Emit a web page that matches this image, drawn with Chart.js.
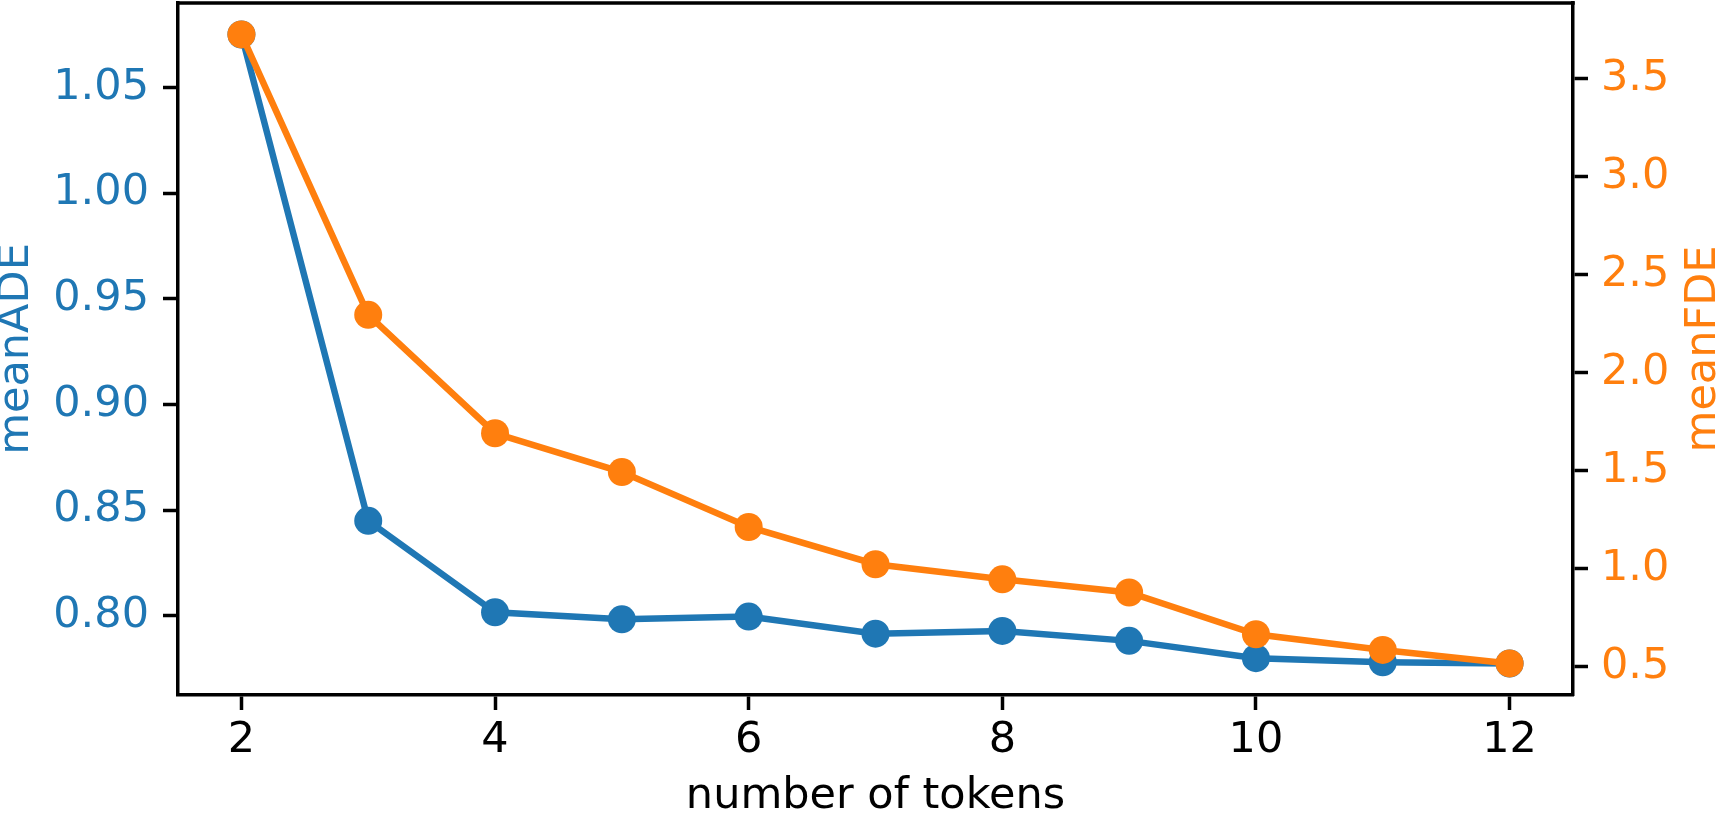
<!DOCTYPE html>
<html>
<head>
<meta charset="utf-8">
<script src="https://cdn.jsdelivr.net/npm/chart.js@4.4.0/dist/chart.umd.min.js"></script>
<style>
html, body { margin: 0; padding: 0; background: #fff; }
canvas { display: block; }
</style>
</head>
<body>
<canvas id="myChart" width="1717" height="814"></canvas>
<script>
// data
const tokens = [2, 3, 4, 5, 6, 7, 8, 9, 10, 11, 12];
const meanADE = [1.075, 0.845, 0.8017, 0.7984, 0.7997, 0.7916, 0.7929, 0.7882, 0.780, 0.7781, 0.7775];
const meanFDE = [3.726, 2.296, 1.692, 1.494, 1.214, 1.024, 0.947, 0.880, 0.667, 0.587, 0.518];

const xTicks = [2, 4, 6, 8, 10, 12];
const adeTicks = [0.80, 0.85, 0.90, 0.95, 1.00, 1.05];
const fdeTicks = [0.5, 1.0, 1.5, 2.0, 2.5, 3.0, 3.5];

const blue = '#1f77b4';
const orange = '#ff7f0e';
const font = { family: 'DejaVu Sans', size: 43 };

// matplotlib style top spine
const topSpine = {
    id: 'topSpine',
    afterDraw(chart) {
        const { ctx, chartArea } = chart;
        ctx.save();
        ctx.strokeStyle = '#000';
        ctx.lineWidth = 3.5;
        ctx.beginPath();
        ctx.moveTo(chartArea.left - 1.75, chartArea.top);
        ctx.lineTo(chartArea.right + 1.75, chartArea.top);
        ctx.stroke();
        ctx.restore();
    }
};

// right axis title reads bottom-to-top like the left one
const rightTitle = {
    id: 'rightTitle',
    afterDraw(chart) {
        const { ctx, chartArea } = chart;
        ctx.save();
        ctx.translate(chart.width - 13, (chartArea.top + chartArea.bottom) / 2);
        ctx.rotate(-Math.PI / 2);
        ctx.font = '43px "DejaVu Sans"';
        ctx.fillStyle = orange;
        ctx.textAlign = 'center';
        ctx.textBaseline = 'middle';
        ctx.fillText('meanFDE', 0, 0);
        ctx.restore();
    }
};

const axisGrid = {
    display: true,
    drawOnChartArea: false,
    drawTicks: true,
    tickLength: 15,
    tickWidth: 3.5,
    tickColor: '#000'
};
const axisBorder = { display: true, color: '#000', width: 3.5 };

// fixed axis sizes, no extra label padding
function fitY(width) {
    return (scale) => {
        scale.width = width;
        scale.paddingTop = 0;
        scale.paddingBottom = 0;
    };
}

const ctx = document.getElementById('myChart').getContext('2d');

new Chart(ctx, {
    type: 'line',
    data: {
        datasets: [{
            label: 'meanFDE',
            data: tokens.map((t, i) => ({ x: t, y: meanFDE[i] })),
            yAxisID: 'y1',
            borderColor: orange,
            backgroundColor: orange,
            borderWidth: 6.5,
            pointRadius: 14,
            pointBorderWidth: 0,
            pointBackgroundColor: orange,
            order: 0
        }, {
            label: 'meanADE',
            data: tokens.map((t, i) => ({ x: t, y: meanADE[i] })),
            yAxisID: 'y',
            borderColor: blue,
            backgroundColor: blue,
            borderWidth: 6.5,
            pointRadius: 14,
            pointBorderWidth: 0,
            pointBackgroundColor: blue,
            order: 1
        }]
    },
    options: {
        responsive: false,
        animation: false,
        devicePixelRatio: 1,
        layout: {
            autoPadding: false,
            padding: { top: 3, left: 0, right: 0, bottom: 0 }
        },
        plugins: {
            legend: { display: false },
            tooltip: { enabled: false }
        },
        scales: {
            x: {
                type: 'linear',
                position: 'bottom',
                min: 1.5,
                max: 12.5,
                afterBuildTicks: (scale) => { scale.ticks = xTicks.map(v => ({ value: v })); },
                afterFit: (scale) => {
                    scale.height = 119;
                    scale.paddingLeft = 0;
                    scale.paddingRight = 0;
                },
                ticks: {
                    color: '#000',
                    font: font,
                    padding: 5,
                    maxRotation: 0,
                    callback: (v) => String(v)
                },
                grid: axisGrid,
                border: axisBorder,
                title: {
                    display: true,
                    text: 'number of tokens',
                    color: '#000',
                    font: { family: 'DejaVu Sans', size: 43, lineHeight: 0.8 },
                    padding: 0
                }
            },
            y: {
                type: 'linear',
                position: 'left',
                min: 0.7626,
                max: 1.0899,
                afterBuildTicks: (scale) => { scale.ticks = adeTicks.map(v => ({ value: v })); },
                afterFit: fitY(178),
                ticks: {
                    color: blue,
                    font: font,
                    padding: 14,
                    callback: (v) => v.toFixed(2)
                },
                grid: axisGrid,
                border: axisBorder,
                title: {
                    display: true,
                    text: 'meanADE',
                    color: blue,
                    font: { family: 'DejaVu Sans', size: 43, lineHeight: 0.8 },
                    padding: 0
                }
            },
            y1: {
                type: 'linear',
                position: 'right',
                min: 0.3572,
                max: 3.886,
                afterBuildTicks: (scale) => { scale.ticks = fdeTicks.map(v => ({ value: v })); },
                afterFit: fitY(144),
                ticks: {
                    color: orange,
                    font: font,
                    padding: 13,
                    callback: (v) => v.toFixed(1)
                },
                grid: axisGrid,
                border: axisBorder
            }
        }
    },
    plugins: [topSpine, rightTitle]
});
</script>
</body>
</html>
